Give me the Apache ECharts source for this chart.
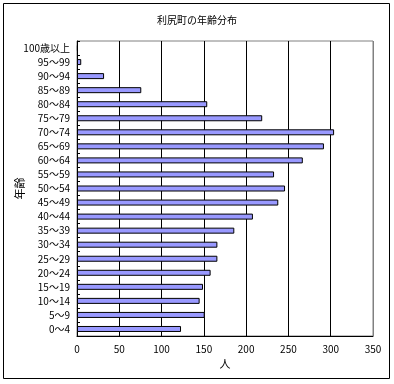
<!DOCTYPE html>
<html><head><meta charset="utf-8">
<script src="https://cdn.jsdelivr.net/npm/echarts@6/dist/echarts.min.js"></script>
<style>html,body{margin:0;padding:0;background:#fff}#c{width:394px;height:384px}</style>
</head><body><div id="c"></div>
<script>
const titleText = '利尻町の年齢分布';
const categories = ['100歳以上','95～99','90～94','85～89','80～84','75～79','70～74','65～69','60～64','55～59','50～54','45～49','40～44','35～39','30～34','25～29','20～24','15～19','10～14','5～9','0～4'];
const values = [1,5,32,76,154,219,304,292,267,233,246,238,208,186,166,166,158,149,145,151,123];
const xTicks = [0,50,100,150,200,250,300,350];
const ff = '"Noto Sans CJK JP", sans-serif';
const chart = echarts.init(document.getElementById('c'), null, {renderer:'canvas'});
chart.setOption({
  animation:false,
  backgroundColor:'#fff',
  title:{text:titleText,left:'center',top:10,textStyle:{fontSize:10,fontWeight:'normal',color:'#000',fontFamily:ff}},
  graphic:[{type:'rect',shape:{x:3.5,y:3.5,width:386,height:375},style:{fill:'none',stroke:'#000',lineWidth:1},silent:true}],
  grid:{left:77,right:21,top:41,bottom:48,show:true,borderColor:'#808080',borderWidth:1,containLabel:false,outerBoundsMode:'none'},
  xAxis:{type:'value',min:xTicks[0],max:xTicks[xTicks.length-1],interval:50,
    name:'人',nameLocation:'middle',nameGap:22,nameMoveOverlap:false,nameTextStyle:{fontSize:11,color:'#000',fontFamily:ff},
    axisLine:{show:true,lineStyle:{color:'#000'}},axisTick:{show:false},
    axisLabel:{fontSize:10,color:'#000',fontFamily:ff,margin:8},
    splitLine:{show:true,lineStyle:{color:['#000','#000','#000','#000','#000','#000','#000','#808080'],width:1}}},
  yAxis:{type:'category',data:categories,inverse:true,
    name:'年齢',nameLocation:'middle',nameGap:52,nameMoveOverlap:false,nameRotate:90,nameTextStyle:{fontSize:11,color:'#000',fontFamily:ff},
    axisLine:{show:true,lineStyle:{color:'#000'}},
    axisTick:{show:true,inside:true,length:3,lineStyle:{color:'#000'}},
    axisLabel:{fontSize:10,color:'#000',fontFamily:ff,margin:7,interval:0}},
  series:[{type:'bar',data:values,barWidth:6,itemStyle:{color:'#9999ff',borderColor:'#000',borderWidth:1}}]
});
</script></body></html>
